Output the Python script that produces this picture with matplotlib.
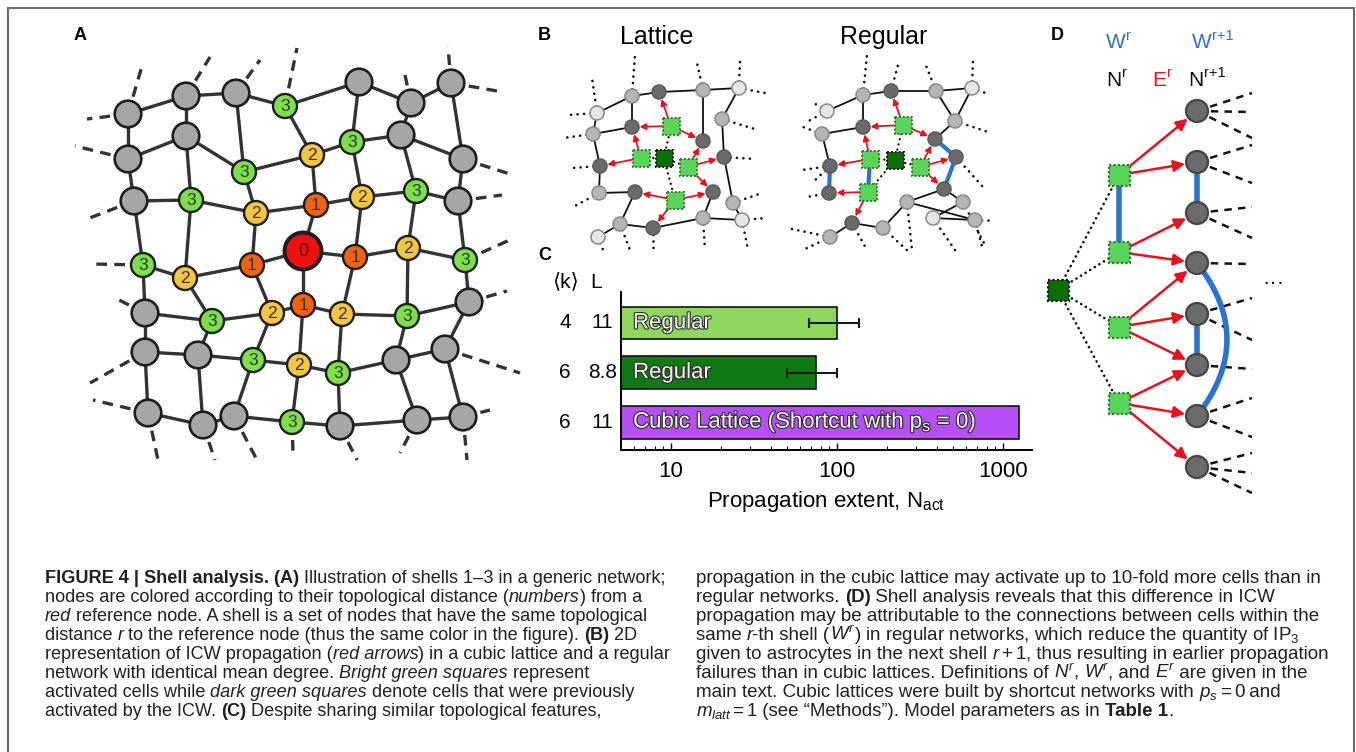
import numpy as np
import matplotlib
matplotlib.use("Agg")
import matplotlib.pyplot as plt
from matplotlib.patches import Circle, Rectangle, FancyArrowPatch, PathPatch
from matplotlib.path import Path
from matplotlib.transforms import blended_transform_factory
import matplotlib.patheffects as pe

plt.rcParams['font.family'] = ['Liberation Sans', 'DejaVu Sans']
plt.rcParams['mathtext.fontset'] = 'custom'
plt.rcParams['mathtext.rm'] = 'Liberation Sans'
plt.rcParams['mathtext.it'] = 'Liberation Sans:italic'
plt.rcParams['mathtext.bf'] = 'Liberation Sans:bold'

# ---- panel C data ----
bar_names = ['Regular', 'Regular', 'Cubic Lattice (Shortcut with p$_{\\mathregular{s}}$ = 0)']
k_mean = ['4', '6', '6']
path_len = ['11', '8.8', '11']
n_act = [100, 75, 1250]
err_low = [32, 25, 0]
err_high = [36, 25, 0]
bar_colors = ['#8fd65e', '#0f7a13', '#b64ff5']

# ---- panel A: shells (-1 = not in shells 0-3) ----
shells = [
    [-1, -1, -1, 3, -1, -1, -1],
    [-1, -1, 3, 2, 3, -1, -1],
    [-1, 3, 2, 1, 2, 3, -1],
    [3, 2, 1, 0, 1, 2, 3],
    [-1, 3, 2, 1, 2, 3, -1],
    [-1, -1, 3, 2, 3, -1, -1],
    [-1, -1, -1, 3, -1, -1, -1],
]
# layout of the drawn network (pixels)
a_nodes = [
    [(128, 114), (186, 96), (236, 93), (285, 106), (359, 82), (411, 103), (451, 83)],
    [(128, 159), (186, 136), (244, 172), (312, 155), (352, 142), (401, 135), (463, 159)],
    [(134, 201), (191, 200), (256, 213), (316, 205), (362, 197), (416, 191), (458, 201)],
    [(143, 265), (185, 278), (252, 265), (303, 251), (355, 257), (408, 248), (465, 260)],
    [(145, 313), (212, 321), (272, 313), (303, 305), (342, 314), (407, 316), (469, 302)],
    [(145, 352), (198, 355), (253, 360), (299, 365), (338, 373), (396, 360), (445, 349)],
    [(148, 413), (203, 425), (234, 416), (292, 422), (340, 426), (417, 420), (463, 417)],
]
a_stubs = [(0, 0, 87, 119), (0, 0, 142, 66), (0, 1, 210, 57), (0, 2, 260, 60), (0, 3, 297, 48),
           (0, 5, 405, 75), (0, 6, 448, 47), (0, 6, 503, 92), (1, 0, 75, 146), (1, 6, 513, 175),
           (2, 0, 87, 219), (2, 6, 502, 195), (3, 0, 92, 264), (3, 6, 512, 239), (4, 0, 115, 298),
           (4, 6, 507, 291), (5, 0, 90, 383), (5, 6, 520, 373), (6, 0, 93, 400), (6, 0, 158, 460),
           (6, 1, 215, 460), (6, 2, 257, 460), (6, 3, 293, 453), (6, 4, 357, 460), (6, 5, 400, 453),
           (6, 6, 467, 460), (6, 6, 490, 410)]
shell_colors = {-1: '#a6a6a6', 0: '#ee1111', 1: '#f0620f', 2: '#f4c542', 3: '#7ddf4a'}

# ---- panel B layouts ----
lat_nodes = [(597, 113, 'v'), (632, 96, 'l'), (659, 92, 'd'), (703, 90, 'l'), (739, 88, 'v'),
             (593, 134, 'l'), (632, 127, 'd'), (722, 119, 'l'), (703, 141, 'd'), (600, 166, 'd'),
             (724, 157, 'd'), (599, 193, 'l'), (635, 192, 'd'), (713, 192, 'd'), (733, 203, 'l'),
             (620, 224, 'l'), (653, 228, 'd'), (703, 218, 'l'), (742, 220, 'v'), (598, 237, 'v')]
lat_sq = [(671, 126), (641, 158), (688, 167), (675, 200)]
lat_dark = (664, 158)
lat_edges = [(0, 1), (1, 2), (2, 3), (3, 4), (1, 6), (5, 6), (5, 9), (3, 8), (4, 7), (7, 10),
             (10, 14), (9, 11), (11, 12), (12, 15), (15, 16), (16, 17), (17, 18), (13, 17),
             (14, 18), (0, 5), (15, 19)]
lat_arrows = [(0, 2), (0, 6), (0, 8), (1, 6), (1, 9), (2, 8), (2, 10), (2, 13), (3, 12), (3, 13), (3, 16)]
lat_stubs = [(0, 568, 115), (0, 592, 78), (1, 635, 55), (3, 697, 63), (4, 740, 60), (4, 765, 93),
             (5, 563, 138), (7, 758, 130), (9, 572, 168), (10, 755, 159), (11, 573, 207),
             (14, 762, 193), (18, 767, 218), (19, 587, 243), (15, 630, 250), (16, 653, 250),
             (17, 705, 250), (18, 748, 250), (19, 605, 255)]

reg_nodes = [(827, 111, 'v'), (863, 95, 'l'), (891, 91, 'd'), (936, 91, 'l'), (972, 88, 'v'),
             (822, 134, 'l'), (863, 127, 'd'), (955, 121, 'l'), (935, 139, 'd'), (956, 157, 'd'),
             (830, 166, 'd'), (829, 193, 'd'), (944, 189, 'd'), (907, 202, 'l'), (963, 202, 'l'),
             (933, 218, 'v'), (975, 220, 'l'), (852, 223, 'd'), (883, 228, 'l'), (830, 237, 'l')]
reg_sq = [(903, 125), (870, 159), (920, 167), (868, 192)]
reg_dark = (895, 160)
reg_edges = [(0, 1), (1, 2), (2, 3), (3, 4), (3, 7), (4, 7), (7, 8), (1, 6), (5, 6), (5, 10),
             (12, 13), (13, 18), (18, 17), (17, 19), (12, 14), (13, 16), (14, 15), (15, 16)]
reg_blue = [(10, 11), (8, 9), (9, 12)]
reg_arrows = [(0, 2), (0, 6), (0, 8), (1, 6), (1, 10), (3, 11), (3, 17), (2, 8), (2, 9), (2, 12)]
reg_stubs = [(0, 805, 123), (0, 812, 102), (1, 867, 55), (2, 898, 65), (3, 925, 63), (4, 973, 60),
             (4, 988, 94), (5, 803, 127), (7, 988, 132), (9, 983, 187), (10, 802, 170),
             (10, 812, 183), (11, 807, 197), (16, 990, 220), (19, 787, 228), (19, 803, 250),
             (17, 867, 250), (18, 910, 253), (13, 912, 250), (15, 957, 253), (16, 983, 250),
             (14, 985, 245)]
shade = {'v': '#e6e6e6', 'l': '#b5b5b5', 'd': '#6a6a6a'}

# ---- panel D layout ----
d_node_x, d_node_y = 1197, [111, 162, 213, 263, 314, 365, 416, 467]
d_sq_x, d_sq_y = 1119, [175, 252, 327, 403]
d_dark = (1058, 290)
d_arrows = [(0, 0), (0, 1), (1, 2), (1, 3), (2, 3), (2, 4), (2, 5), (3, 5), (3, 6), (3, 7)]
d_stubs = [(0, 93), (0, 112), (0, 138), (1, 145), (1, 183), (2, 207), (2, 238), (3, 264),
           (4, 298), (4, 340), (5, 369), (6, 398), (6, 437), (7, 453), (7, 473), (7, 493)]

RED = '#e5141c'
BLUE = '#2b74cc'
PX = 1.389  # pixels per point at dpi 100

fig = plt.figure(figsize=(13.56, 7.52), dpi=100)
ax = fig.add_axes([0, 0, 1, 1])
ax.set_xlim(0, 1356)
ax.set_ylim(752, 0)
ax.axis('off')


def seg(p, q, **kw):
    ax.plot([p[0], q[0]], [p[1], q[1]], **kw)


def arrow(p, q, sa, sb, ms=10, lw=1.5):
    ax.add_patch(FancyArrowPatch(p, q, arrowstyle='-|>', mutation_scale=ms,
                                 shrinkA=sa / PX, shrinkB=sb / PX, color=RED,
                                 lw=lw, zorder=4))


def square(c, s, fc, ec, lw=1.4):
    ax.add_patch(Rectangle((c[0] - s / 2, c[1] - s / 2), s, s, fc=fc, ec=ec,
                           lw=lw, ls=(0, (1, 1)), zorder=5))


def sup_text(x, y, base, sup, color):
    # base letter centred at x, superscript placed just right of it
    t = ax.text(x, y, base, fontsize=15, color=color, ha='center', va='center')
    w = t.get_window_extent(fig.canvas.get_renderer()).width
    ax.text(x + w / 2 + 0.5, y - 7, sup, fontsize=10.5, color=color, ha='left', va='center')


# frame
ax.plot([8, 8, 1354, 1354], [760, 8, 8, 760], color='#6b6b6b', lw=1.5, solid_joinstyle='miter')

# ---------------- panel A ----------------
ax.text(80, 35, 'A', fontsize=13, fontweight='bold', ha='center', va='center')
for r in range(7):
    for c in range(7):
        if c < 6:
            seg(a_nodes[r][c], a_nodes[r][c + 1], color='#333333', lw=2.4, zorder=1)
        if r < 6:
            seg(a_nodes[r][c], a_nodes[r + 1][c], color='#333333', lw=2.4, zorder=1)
for r, c, xe, ye in a_stubs:
    x0, y0 = a_nodes[r][c]
    seg((x0, y0), (xe, ye), color='#333333', lw=2.4, ls=(0, (3.2, 2.2)), zorder=1)
for r in range(7):
    for c in range(7):
        s = shells[r][c]
        x, y = a_nodes[r][c]
        if s < 0:
            ax.add_patch(Circle((x, y), 13.3, fc=shell_colors[s], ec='#1e1e1e', lw=1.9, zorder=3))
        elif s == 0:
            ax.add_patch(Circle((x, y), 18.5, fc=shell_colors[s], ec='#1e1e1e', lw=2.8, zorder=3))
            ax.text(x, y, '0', fontsize=13, ha='center', va='center', color='#5a0000', zorder=4)
        else:
            ax.add_patch(Circle((x, y), 12, fc=shell_colors[s], ec='#1e1e1e', lw=1.7, zorder=3))
            ax.text(x, y + 0.5, str(s), fontsize=12.5, ha='center', va='center', color='#333333', zorder=4)

# ---------------- panel B ----------------
ax.text(544, 36, 'B', fontsize=13, fontweight='bold', ha='center', va='center')
ax.text(657, 37, 'Lattice', fontsize=18, ha='center', va='center')
ax.text(884, 37, 'Regular', fontsize=18, ha='center', va='center')


def draw_net(nodes, sqs, dark, edges, blue, arrows, stubs):
    for i, xe, ye in stubs:
        seg(nodes[i][:2], (xe, ye), color='#111111', lw=1.9, ls=(0, (0.05, 2.4)),
            dash_capstyle='round', zorder=1)
    for i, j in edges:
        seg(nodes[i][:2], nodes[j][:2], color='#111111', lw=1.3, zorder=2)
    for i, j in blue:
        seg(nodes[i][:2], nodes[j][:2], color=BLUE, lw=3, zorder=2)
    for s in sqs:
        seg(dark, s, color='#111111', lw=1.7, ls=(0, (0.05, 2.2)), dash_capstyle='round', zorder=2)
    for x, y, sh in nodes:
        ax.add_patch(Circle((x, y), 7, fc=shade[sh], ec='#5a5a5a' if sh == 'd' else '#8a8a8a',
                            lw=1.1, zorder=3))
    for si, ni in arrows:
        arrow(sqs[si], nodes[ni][:2], 8.5, 7.5, ms=9, lw=1.3)
    for s in sqs:
        square(s, 17, '#5ad45a', '#2a7a2a')
    square(dark, 17, '#0b6e0b', '#111111')


draw_net(lat_nodes, lat_sq, lat_dark, lat_edges, [], lat_arrows, lat_stubs)
seg(reg_sq[1], reg_sq[3], color=BLUE, lw=3, zorder=2)
draw_net(reg_nodes, reg_sq, reg_dark, reg_edges, reg_blue, reg_arrows, reg_stubs)

# ---------------- panel D ----------------
ax.text(1057, 35, 'D', fontsize=13, fontweight='bold', ha='center', va='center')
sup_text(1116, 43, 'W', 'r', BLUE)
sup_text(1202, 43, 'W', 'r+1', BLUE)
sup_text(1114, 80, 'N', 'r', '#111111')
sup_text(1159, 80, 'E', 'r', RED)
sup_text(1196, 80, 'N', 'r+1', '#111111')
ax.text(1273, 283, '···', fontsize=16, ha='center', va='center', color='#111111')

for i, ye in d_stubs:
    seg((d_node_x, d_node_y[i]), (1252, ye), color='#111111', lw=1.8, ls=(0, (3, 2.5)), zorder=1)
for y in d_sq_y:
    seg(d_dark, (d_sq_x, y), color='#111111', lw=1.9, ls=(0, (0.05, 2)), dash_capstyle='round', zorder=1)
seg((d_sq_x, d_sq_y[0]), (d_sq_x, d_sq_y[1]), color=BLUE, lw=4, zorder=2)
seg((d_node_x, d_node_y[1]), (d_node_x, d_node_y[2]), color=BLUE, lw=4, zorder=2)
seg((d_node_x, d_node_y[4]), (d_node_x, d_node_y[5]), color=BLUE, lw=4, zorder=2)
p0, p2 = (d_node_x, d_node_y[3]), (d_node_x, d_node_y[6])
ctrl = (d_node_x + 60, (p0[1] + p2[1]) / 2)
ax.add_patch(PathPatch(Path([p0, ctrl, p2], [Path.MOVETO, Path.CURVE3, Path.CURVE3]),
                       fc='none', ec=BLUE, lw=4, zorder=2))
for y in d_node_y:
    ax.add_patch(Circle((d_node_x, y), 11, fc='#6b6b6b', ec='#444444', lw=1.6, zorder=3))
for si, ni in d_arrows:
    arrow((d_sq_x, d_sq_y[si]), (d_node_x, d_node_y[ni]), 11, 12, ms=17, lw=1.8)
for y in d_sq_y:
    square((d_sq_x, y), 21, '#5ad45a', '#2a7a2a', lw=1.6)
square(d_dark, 21, '#0b6e0b', '#111111', lw=1.6)

# ---------------- panel C ----------------
ax.text(545, 256, 'C', fontsize=13, fontweight='bold', ha='center', va='center')
axc = fig.add_axes([620.7 / 1356, 1 - 450 / 752, 411.3 / 1356, (450 - 291.7) / 752])
axc.patch.set_alpha(0)
axc.set_xscale('log')
xmin = 5
ypos = np.arange(len(n_act))
axc.barh(ypos, np.array(n_act) - xmin, left=xmin, height=0.66, color=bar_colors,
         edgecolor='#111111', linewidth=1.2, zorder=2)
for i in range(len(n_act)):
    if err_low[i] > 0:
        axc.errorbar(n_act[i], ypos[i], xerr=[[err_low[i]], [err_high[i]]], fmt='none',
                     ecolor='#1a1a1a', elinewidth=1.5, capsize=3.5, capthick=1.5, zorder=3)
axc.set_xlim(xmin, 1500)
axc.set_ylim(2.56, -0.63)
axc.spines['top'].set_visible(False)
axc.spines['right'].set_visible(False)
axc.spines['left'].set_linewidth(1.4)
axc.spines['bottom'].set_linewidth(1.4)
axc.set_yticks([])
axc.tick_params(axis='x', which='major', direction='in', length=5, width=1, labelsize=16, pad=8)
axc.tick_params(axis='x', which='minor', direction='in', length=3, width=0.8)
axc.set_xticks([10, 100, 1000])
axc.set_xticklabels(['10', '100', '1000'])
axc.set_xlabel('Propagation extent, N$_{\\mathregular{act}}$', fontsize=16, labelpad=5)

tr = blended_transform_factory(axc.transAxes, axc.transData)
outline = [pe.withStroke(linewidth=1.6, foreground='#2a2a2a')]
for i, name in enumerate(bar_names):
    axc.text(0.03, ypos[i], name, transform=tr, fontsize=16, color='white', ha='left',
             va='center', path_effects=outline, zorder=4)
    axc.text(-0.135, ypos[i], k_mean[i], transform=tr, fontsize=15, ha='center', va='center')
    axc.text(-0.045, ypos[i], path_len[i], transform=tr, fontsize=15, ha='center', va='center')
axc.text(-0.135, -0.82, '⟨k⟩', transform=tr, fontsize=15, ha='center', va='center')
axc.text(-0.06, -0.82, 'L', transform=tr, fontsize=15, ha='center', va='center')

# ---------------- caption ----------------
fig.canvas.draw()
rend = fig.canvas.get_renderer()
CAP = dict(color='#231f20', ha='left', va='baseline')


def run_kw(st, size):
    kw = dict(CAP, fontsize=size)
    if st == 'b':
        kw['fontweight'] = 'bold'
    if st == 'i':
        kw['fontstyle'] = 'italic'
    return kw


def adv(txt, kw):
    t1 = ax.text(0, 0, '.' + txt + '.', **kw)
    t2 = ax.text(0, 0, '..', **kw)
    w = t1.get_window_extent(rend).width - t2.get_window_extent(rend).width
    t1.remove()
    t2.remove()
    return w


def rich_line(x, y, runs, size):
    for txt, st in runs:
        kw = run_kw(st, size)
        ax.text(x, y, txt, **kw)
        x += adv(txt, kw)


left_lines = [
    [('FIGURE 4 | Shell analysis. (A)', 'b'), (' Illustration of shells 1–3 in a generic network;', 'n')],
    [('nodes are colored according to their topological distance (', 'n'), ('numbers', 'i'), (') from a', 'n')],
    [('red', 'i'), (' reference node. A shell is a set of nodes that have the same topological', 'n')],
    [('distance ', 'n'), ('r', 'i'), (' to the reference node (thus the same color in the figure). ', 'n'),
     ('(B)', 'b'), (' 2D', 'n')],
    [('representation of ICW propagation (', 'n'), ('red arrows', 'i'), (') in a cubic lattice and a regular', 'n')],
    [('network with identical mean degree. ', 'n'), ('Bright green squares', 'i'), (' represent', 'n')],
    [('activated cells while ', 'n'), ('dark green squares', 'i'), (' denote cells that were previously', 'n')],
    [('activated by the ICW. ', 'n'), ('(C)', 'b'), (' Despite sharing similar topological features,', 'n')],
]
right_lines = [
    [('propagation in the cubic lattice may activate up to 10-fold more cells than in', 'n')],
    [('regular networks. ', 'n'), ('(D)', 'b'), (' Shell analysis reveals that this difference in ICW', 'n')],
    [('propagation may be attributable to the connections between cells within the', 'n')],
    [('same ', 'n'), ('r', 'i'), ('-th shell (', 'n'), ('$W^r$', 'n'),
     (') in regular networks, which reduce the quantity of IP$_3$', 'n')],
    [('given to astrocytes in the next shell ', 'n'), ('$r + 1$', 'n'),
     (', thus resulting in earlier propagation', 'n')],
    [('failures than in cubic lattices. Definitions of ', 'n'), ('$N^r$', 'n'), (', ', 'n'), ('$W^r$', 'n'),
     (', and ', 'n'), ('$E^r$', 'n'), (' are given in the', 'n')],
    [('main text. Cubic lattices were built by shortcut networks with ', 'n'), ('$p_s = 0$', 'n'), (' and', 'n')],
    [('$m_{latt} = 1$', 'n'), (' (see “Methods”). Model parameters as in ', 'n'), ('Table 1', 'b'), ('.', 'n')],
]
for i, runs in enumerate(left_lines):
    rich_line(45, 583 + 19 * i, runs, 13.1)
for i, runs in enumerate(right_lines):
    rich_line(696, 583 + 19 * i, runs, 13.5)

fig.savefig('out.png', dpi=100)
